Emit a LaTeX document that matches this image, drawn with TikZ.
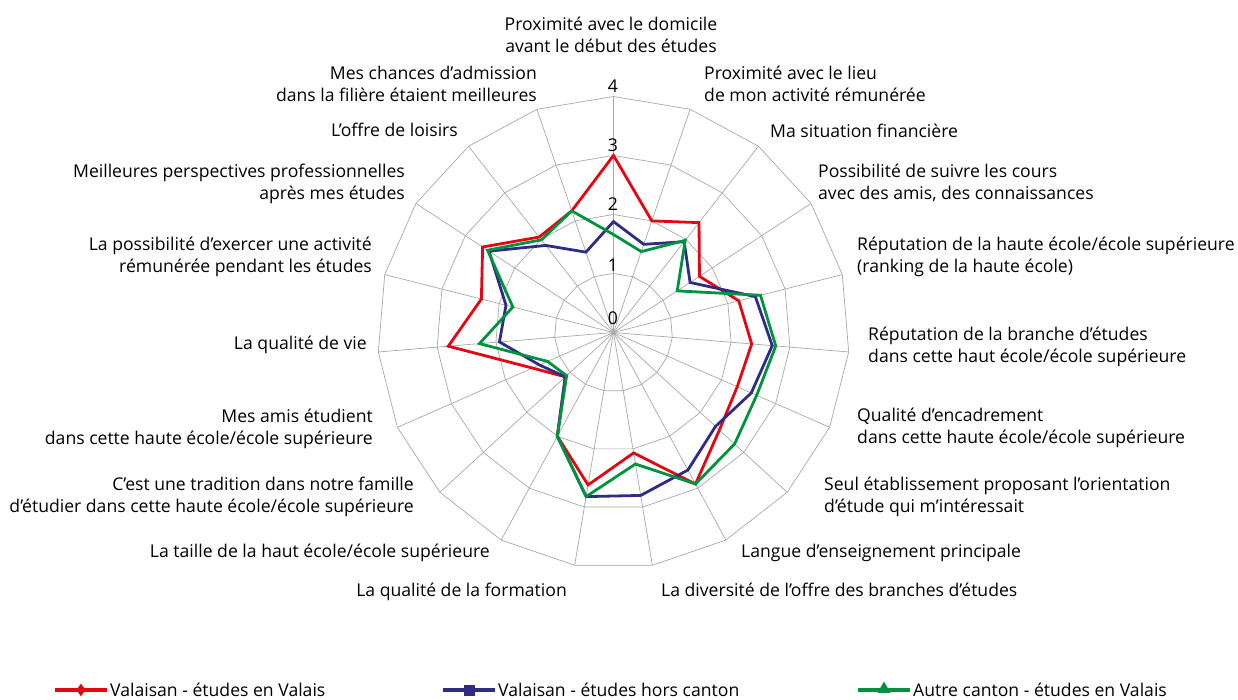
\documentclass[tikz,border=0pt]{standalone}
\usepackage{fontspec}
\setmainfont{Open Sans}
\usetikzlibrary{shapes.geometric}
\definecolor{cred}{HTML}{E30613}
\definecolor{cblue}{HTML}{2E2C84}
\definecolor{cgreen}{HTML}{00923F}
\definecolor{cgrid}{HTML}{A8A8A8}
\begin{document}
\begin{tikzpicture}[x=1pt,y=-1pt,
  gridline/.style={draw=cgrid, line width=0.7pt},
  serie/.style={line width=2.8pt, line join=miter},
  lab/.style={font=\fontsize{17.6}{22}\selectfont, inner sep=0pt, text=black},
  labl/.style={lab, anchor=base west, align=left},
  labr/.style={lab, anchor=base east, align=right},
  valtick/.style={lab, anchor=south},
  legline/.style={line width=3.5pt},
]
\useasboundingbox (0,0) rectangle (1238,700);
\coordinate (c) at (613.5,332.5);
\begin{scope}[shift={(c)}]
  \foreach \k in {0,...,18} \coordinate (a\k) at ({-90+\k*360/19}:236);
  \foreach \k in {0,...,18} \draw[gridline] (0,0) -- (a\k);
  \foreach \rr in {1,2,3,4}
    \draw[gridline] (-90:{\rr*59}) \foreach \k in {1,...,18}{ -- ({-90+\k*360/19}:{\rr*59}) } -- cycle;
  \foreach \v [count=\k from 0] in {3.0,2.0,2.36,1.74,2.19,2.35,2.29,2.44,2.92,2.07,2.62,2.0,1.11,1.5,2.81,2.31,2.65,2.05,2.18}
    \coordinate (r\k) at ({-90+\k*360/19}:{\v*59});
  \foreach \v [count=\k from 0] in {1.88,1.58,1.95,1.55,2.48,2.70,2.55,2.35,2.65,2.80,2.82,2.0,1.11,1.37,1.94,1.88,2.52,1.87,1.44}
    \coordinate (b\k) at ({-90+\k*360/19}:{\v*59});
  \foreach \v [count=\k from 0] in {1.66,1.45,1.98,1.29,2.57,2.76,2.65,2.79,2.92,2.26,2.82,2.0,1.08,1.22,2.28,1.76,2.55,1.99,2.18}
    \coordinate (g\k) at ({-90+\k*360/19}:{\v*59});
  \draw[serie, cred] (r0) \foreach \k in {1,...,18}{ -- (r\k)} -- cycle;
  \draw[serie, cblue] (b0) \foreach \k in {1,...,18}{ -- (b\k)} -- cycle;
  \draw[serie, cgreen] (g0) \foreach \k in {1,...,18}{ -- (g\k)} -- cycle;
\end{scope}
% value ticks
\node[valtick] (v0) at (613,325) {0};
\node[valtick] (v1) at (613,272) {1};
\node[valtick] (v2) at (613,211) {2};
\node[valtick] (v3) at (613,152) {3};
\node[valtick] (v4) at (613,93) {4};
% axis labels (base = baseline of the last line)
\node[lab, anchor=base, align=center] (l0) at (611,53) {Proximité avec le domicile\\avant le début des études};
\node[labl] (l1) at (704,102) {Proximité avec le lieu\\de mon activité rémunérée};
\node[labl] (l2) at (770,138) {Ma situation financière};
\node[labl] (l3) at (818,200) {Possibilité de suivre les cours\\avec des amis, des connaissances};
\node[labl] (l4) at (857,273) {Réputation de la haute école/école supérieure\\(ranking de la haute école)};
\node[labl] (l5) at (868,362) {Réputation de la branche d’études\\dans cette haut école/école supérieure};
\node[labl] (l6) at (857,443) {Qualité d’encadrement\\dans cette haute école/école supérieure};
\node[labl] (l7) at (824,512) {Seul établissement proposant l’orientation\\d’étude qui m’intéressait};
\node[labl] (l8) at (741,557) {Langue d’enseignement principale};
\node[labl] (l9) at (661,596) {La diversité de l’offre des branches d’études};
\node[labr] (l10) at (567,596) {La qualité de la formation};
\node[labr] (l11) at (490,557) {La taille de la haut école/école supérieure};
\node[labr] (l12) at (414,512) {C’est une tradition dans notre famille\\d’étudier dans cette haute école/école supérieure};
\node[labr] (l13) at (373,444) {Mes amis étudient\\dans cette haute école/école supérieure};
\node[labr] (l14) at (367,349) {La qualité de vie};
\node[labr] (l15) at (372,273) {La possibilité d’exercer une activité\\rémunérée pendant les études};
\node[labr] (l16) at (405,200) {Meilleures perspectives professionnelles\\après mes études};
\node[labr] (l17) at (458,137) {L’offre de loisirs};
\node[labr] (l18) at (537,102) {Mes chances d’admission\\dans la filière étaient meilleures};
% legend
\coordinate (la1) at (55,690); \coordinate (lb1) at (107,690);
\coordinate (la2) at (443,690); \coordinate (lb2) at (495,690);
\coordinate (la3) at (858,690); \coordinate (lb3) at (910,690);
\draw[legline, cred] (la1) -- (lb1);
\draw[legline, cblue] (la2) -- (lb2);
\draw[legline, cgreen] (la3) -- (lb3);
\node[diamond, fill=cred, minimum width=9pt, minimum height=13pt, inner sep=0pt] (m1) at (81,690) {};
\node[rectangle, fill=cblue, minimum size=11pt, inner sep=0pt] (m2) at (469,690) {};
\node[regular polygon, regular polygon sides=3, fill=cgreen, minimum size=15pt, inner sep=0pt] (m3) at (884,689) {};
\node[lab, anchor=base west] (t1) at (110,696) {Valaisan - études en Valais};
\node[lab, anchor=base west] (t2) at (498,696) {Valaisan - études hors canton};
\node[lab, anchor=base west] (t3) at (913,696) {Autre canton - études en Valais};
\end{tikzpicture}
\end{document}
